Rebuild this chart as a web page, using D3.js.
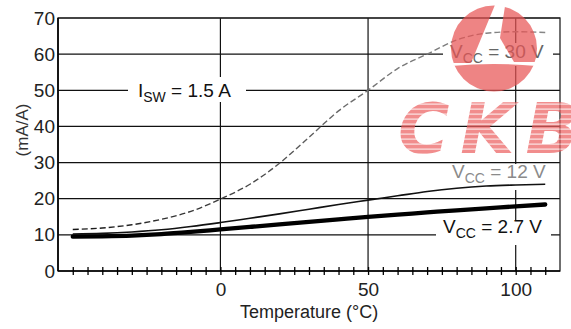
<!DOCTYPE html>
<html><head><meta charset="utf-8">
<script src="https://cdn.jsdelivr.net/npm/d3@7/dist/d3.min.js"></script>
<style>
html,body{margin:0;padding:0;background:#fff;}
svg{display:block;font-family:"Liberation Sans",Arial,sans-serif;}
</style></head>
<body><svg id="chart" width="571" height="329"></svg>
<script>
// ---- data ----
const temps = [-50,-40,-30,-20,-10,0,10,20,30,40,50,60,70,80,90,100,110];
const vcc30 = [11.5,11.9,12.8,14.3,16.5,19.9,24,29.8,37,44.3,50,56,60,63.9,65.8,66.2,66];
const vcc12 = [10.2,10.4,10.8,11.4,12.3,13.4,14.6,15.8,17.1,18.4,19.6,20.8,22,22.9,23.5,23.8,24];
const vcc27 = [9.5,9.6,9.8,10.2,10.8,11.5,12.2,12.9,13.6,14.3,15,15.6,16.2,16.8,17.3,17.9,18.4];
const yTicks = [0,10,20,30,40,50,60,70];
const xLabelTicks = [0,50,100];
const xMinorTicks = d3.range(-50,115,5);
const xGrid = [0,50,100];
const xTitle = "Temperature (°C)";
const yTitle = "(mA/A)";

const svg = d3.select("#chart");
const L=58,R=560,T=18,B=271;
const x = d3.scaleLinear().domain([-55,115]).range([L,R]);
const y = d3.scaleLinear().domain([0,70]).range([B,T]);

const defs = svg.append("defs");
const grad = defs.append("linearGradient").attr("id","dashgrad").attr("gradientUnits","userSpaceOnUse")
  .attr("x1",L).attr("x2",R).attr("y1",0).attr("y2",0);
grad.append("stop").attr("offset","0%").attr("stop-color","#111");
grad.append("stop").attr("offset","35%").attr("stop-color","#444");
grad.append("stop").attr("offset","65%").attr("stop-color","#777");
grad.append("stop").attr("offset","100%").attr("stop-color","#888");
const pat = defs.append("pattern").attr("id","stripes").attr("patternUnits","userSpaceOnUse")
  .attr("width",10).attr("height",5);
pat.append("rect").attr("width",10).attr("height",5).attr("fill","#ec6262");
pat.append("rect").attr("y",3.3).attr("width",10).attr("height",1.7).attr("fill","#f6b8b8");

// horizontal gridlines
svg.append("g").selectAll("line").data(yTicks.filter(d=>d>0)).join("line")
  .attr("x1",L).attr("x2",R).attr("y1",d=>y(d)).attr("y2",d=>y(d))
  .attr("stroke","#111").attr("stroke-width",1.2);
// vertical gridlines
svg.append("g").selectAll("line").data(xGrid).join("line")
  .attr("x1",d=>x(d)).attr("x2",d=>x(d)).attr("y1",T).attr("y2",B)
  .attr("stroke","#111").attr("stroke-width",1.2);
// frame
svg.append("rect").attr("x",L).attr("y",T).attr("width",R-L).attr("height",B-T)
  .attr("fill","none").attr("stroke","#222").attr("stroke-width",1.3);
svg.append("line").attr("x1",L).attr("x2",L).attr("y1",T).attr("y2",B).attr("stroke","#000").attr("stroke-width",1.6);
svg.append("line").attr("x1",L).attr("x2",R).attr("y1",B).attr("y2",B).attr("stroke","#000").attr("stroke-width",1.6);

// x axis minor ticks (crossing)
const xa = svg.append("g").attr("transform",`translate(0,${B})`)
  .call(d3.axisBottom(x).tickValues(xMinorTicks).tickSize(4).tickFormat(""));
xa.select(".domain").remove();
xa.selectAll(".tick line").attr("y1",-4).attr("y2",4).attr("stroke","#000").attr("stroke-width",1.3);
// x labels
const xl = svg.append("g").attr("transform",`translate(0,${B})`)
  .call(d3.axisBottom(x).tickValues(xLabelTicks).tickSize(0).tickPadding(12));
xl.select(".domain").remove();
xl.selectAll("text").attr("font-size",19).attr("font-family","Liberation Sans, Arial, sans-serif").attr("fill","#222");
// y labels
const yl = svg.append("g").attr("transform",`translate(${L},0)`)
  .call(d3.axisLeft(y).tickValues(yTicks).tickSize(0).tickPadding(3));
yl.select(".domain").remove();
yl.selectAll("text").attr("font-size",19).attr("font-family","Liberation Sans, Arial, sans-serif").attr("fill","#222");

svg.append("text").attr("x",240).attr("y",318).attr("font-size",18).attr("fill","#222").text(xTitle);
svg.append("text").attr("transform","translate(28,130) rotate(-90)").attr("text-anchor","middle")
  .attr("font-size",17).attr("fill","#333").text(yTitle);

// label backgrounds
const boxes = [[128,77,118,25],[443,43,110,23],[445,164,108,26],[436,221,115,24]];
svg.append("g").selectAll("rect").data(boxes).join("rect")
  .attr("x",d=>d[0]).attr("y",d=>d[1]).attr("width",d=>d[2]).attr("height",d=>d[3]).attr("fill","#fff");

function label(x0,yb,main,sub,rest,color){
  const t = svg.append("text").attr("x",x0).attr("y",yb).attr("font-size",19).attr("fill",color);
  t.append("tspan").text(main);
  t.append("tspan").attr("font-size",14).attr("dy",5).text(sub);
  t.append("tspan").attr("dy",-5).text(rest);
}
label(138,97,"I","SW"," = 1.5 A","#111");
label(450,58,"V","CC"," = 30 V","#666");
label(452,178,"V","CC"," = 12 V","#8a8a8a");
label(443,233,"V","CC"," = 2.7 V","#111");

// curves
const line = d3.line().x((d,i)=>x(temps[i])).y(d=>y(d)).curve(d3.curveMonotoneX);
svg.append("path").attr("d",line(vcc27)).attr("fill","none").attr("stroke","#000").attr("stroke-width",4.3).attr("stroke-linecap","round");
svg.append("path").attr("d",line(vcc12)).attr("fill","none").attr("stroke","#111").attr("stroke-width",1.6);
svg.append("path").attr("d",line(vcc30)).attr("fill","none").attr("stroke","url(#dashgrad)").attr("stroke-width",1.4).attr("stroke-dasharray","6,3");

// watermark
const wm = svg.append("g").attr("opacity",0.72);
defs.append("clipPath").attr("id","logoclip").append("circle").attr("cx",494).attr("cy",48.5).attr("r",43);
const lg = wm.append("g").attr("clip-path","url(#logoclip)").attr("fill","#e85555");
lg.append("path").attr("d","M440,0 L497,0 L471,63 L440,63 Z");
lg.append("path").attr("d","M506,0 L545,0 L545,62 L514,62 L500,38 Z");
lg.append("path").attr("d","M440,67 Q494,61 548,67 L548,100 L440,100 Z");
wm.append("text").attr("x",398).attr("y",153).attr("font-family","DejaVu Sans, sans-serif")
  .attr("font-weight","bold").attr("font-style","italic").attr("font-size",70)
  .attr("letter-spacing",11).attr("fill","url(#stripes)").text("CKB");
</script></body></html>
